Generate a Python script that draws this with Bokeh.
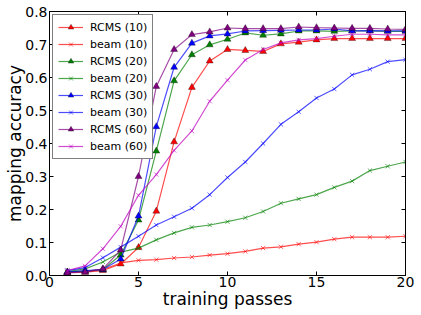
from bokeh.plotting import figure
from bokeh.embed import file_html
from bokeh.resources import INLINE
from bokeh.models import LinearAxis, FixedTicker, Legend, LegendItem, Range1d

passes = list(range(1, 21))

rcms10 = [0.010, 0.010, 0.015, 0.035, 0.085, 0.195, 0.405, 0.570, 0.650, 0.685, 0.682, 0.679, 0.702, 0.707, 0.714, 0.718, 0.718, 0.718, 0.718, 0.718]
beam10 = [0.010, 0.013, 0.018, 0.038, 0.046, 0.048, 0.053, 0.056, 0.062, 0.066, 0.073, 0.083, 0.087, 0.095, 0.101, 0.110, 0.116, 0.116, 0.116, 0.119]
rcms20 = [0.010, 0.013, 0.018, 0.062, 0.168, 0.377, 0.590, 0.669, 0.699, 0.716, 0.735, 0.728, 0.732, 0.741, 0.741, 0.740, 0.741, 0.741, 0.740, 0.740]
beam20 = [0.012, 0.020, 0.041, 0.071, 0.083, 0.108, 0.129, 0.146, 0.153, 0.163, 0.175, 0.194, 0.219, 0.232, 0.245, 0.267, 0.286, 0.318, 0.331, 0.344]
rcms30 = [0.010, 0.015, 0.018, 0.050, 0.180, 0.451, 0.631, 0.704, 0.726, 0.732, 0.741, 0.742, 0.743, 0.744, 0.744, 0.747, 0.741, 0.742, 0.741, 0.741]
beam30 = [0.015, 0.024, 0.054, 0.086, 0.119, 0.153, 0.178, 0.204, 0.245, 0.297, 0.344, 0.400, 0.458, 0.496, 0.538, 0.565, 0.608, 0.625, 0.648, 0.654]
rcms60 = [0.008, 0.010, 0.020, 0.077, 0.300, 0.573, 0.685, 0.730, 0.738, 0.750, 0.748, 0.748, 0.748, 0.753, 0.751, 0.750, 0.749, 0.749, 0.747, 0.746]
beam60 = [0.015, 0.029, 0.081, 0.149, 0.243, 0.306, 0.379, 0.438, 0.528, 0.592, 0.653, 0.685, 0.705, 0.714, 0.718, 0.725, 0.731, 0.731, 0.729, 0.729]

series = [
    ("RCMS (10)", rcms10, "#ff0000", "triangle"),
    ("beam (10)", beam10, "#ff0000", "x"),
    ("RCMS (20)", rcms20, "#008000", "triangle"),
    ("beam (20)", beam20, "#008000", "x"),
    ("RCMS (30)", rcms30, "#0000ff", "triangle"),
    ("beam (30)", beam30, "#0000ff", "x"),
    ("RCMS (60)", rcms60, "#800080", "triangle"),
    ("beam (60)", beam60, "#bf00bf", "x"),
]

x_ticks = [0, 5, 10, 15, 20]
y_ticks = [0.0, 0.1, 0.2, 0.3, 0.4, 0.5, 0.6, 0.7, 0.8]

FONT = "DejaVu Sans"

p = figure(width=421, height=315, output_backend="svg", toolbar_location=None,
           x_range=Range1d(0, 20), y_range=Range1d(0, 0.8),
           min_border_left=49, min_border_top=11, min_border_right=16, min_border_bottom=40)
p.background_fill_color = "white"
p.border_fill_color = "white"
p.outline_line_color = "black"
p.outline_line_width = 1
p.xgrid.visible = False
p.ygrid.visible = False

for ax, ticks in ((p.xaxis[0], x_ticks), (p.yaxis[0], y_ticks)):
    ax.ticker = FixedTicker(ticks=ticks)
    ax.major_tick_in = 4
    ax.major_tick_out = 0
    ax.minor_tick_line_color = None
    ax.axis_line_color = "black"
    ax.major_label_text_font = FONT
    ax.major_label_text_font_size = "14px"
    ax.major_label_text_color = "black"
    ax.major_label_standoff = 2
    ax.axis_label_text_font = FONT
    ax.axis_label_text_font_size = "17px"
    ax.axis_label_text_font_style = "normal"
    ax.axis_label_text_color = "black"

p.xaxis.axis_label = "training passes"
p.yaxis.axis_label = "mapping accuracy"
p.xaxis.axis_label_standoff = -1
p.xaxis.major_label_standoff = 1
p.yaxis.axis_label_standoff = -3
p.yaxis.major_label_overrides = {t: f"{t:.1f}" for t in y_ticks}

top = LinearAxis(ticker=FixedTicker(ticks=x_ticks), major_tick_in=4, major_tick_out=0,
                 minor_tick_line_color=None, major_label_text_font_size="0px",
                 major_label_overrides={t: "" for t in x_ticks},
                 major_label_standoff=0, axis_line_color="black")
right = LinearAxis(ticker=FixedTicker(ticks=y_ticks), major_tick_in=4, major_tick_out=0,
                   minor_tick_line_color=None, major_label_text_font_size="0px",
                   major_label_overrides={t: "" for t in y_ticks},
                   major_label_standoff=0, axis_line_color="black")
p.add_layout(top, "above")
p.add_layout(right, "right")

items = []
for label, vals, color, marker in series:
    ln = p.line(passes, vals, line_color=color, line_width=1.2, line_alpha=0.7)
    if marker == "triangle":
        mk = p.scatter(passes, vals, marker="triangle", size=7, fill_color=color,
                       line_color="black", line_width=0.4, line_alpha=0.8)
    else:
        mk = p.scatter(passes, vals, marker="x", size=6, line_color=color,
                       line_width=1, line_alpha=0.6)
    items.append(LegendItem(label=label, renderers=[ln, mk]))

legend = Legend(items=items, location="top_left")
legend.label_text_font = FONT
legend.label_text_font_size = "11px"
legend.label_text_color = "black"
legend.label_height = 14
legend.glyph_height = 14
legend.glyph_width = 25
legend.label_standoff = 7
legend.spacing = 3
legend.padding = 5
legend.margin = 3
legend.border_line_color = "black"
legend.border_line_width = 1
legend.background_fill_color = "white"
legend.background_fill_alpha = 1
p.add_layout(legend)

open("out.html", "w").write(file_html(p, INLINE))
